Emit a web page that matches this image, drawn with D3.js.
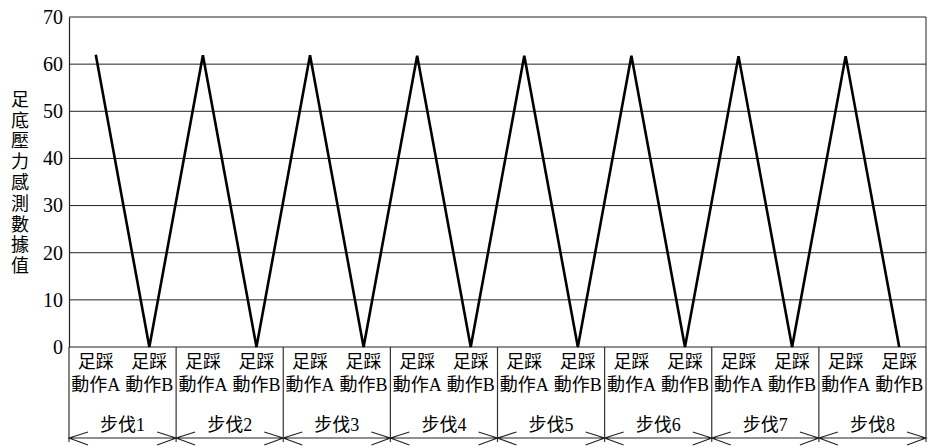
<!DOCTYPE html>
<html><head><meta charset="utf-8">
<script src="https://cdn.jsdelivr.net/npm/d3@7"></script>
<style>
html,body{margin:0;padding:0;background:#fff;}
svg text{font-family:"Liberation Serif","Times New Roman","Noto Sans CJK TC",serif;fill:#000;}
</style></head>
<body><svg id="c" width="931" height="448"></svg>
<script>
const steps = ["步伐1","步伐2","步伐3","步伐4","步伐5","步伐6","步伐7","步伐8"];
const actionTop = ["足踩","足踩"];
const actionBottom = ["動作A","動作B"];
const peakValues = [62, 61.9, 61.9, 61.8, 61.8, 61.8, 61.7, 61.7];
const lowValues = [0, 0, 0, 0, 0, 0, 0, 0];
const yTicks = [0,10,20,30,40,50,60,70];
const yTitle = "足底壓力感測數據值";

const svg = d3.select("#c");
const L = 69, R = 926, T = 17, B = 347;

const cats = [];
steps.forEach((s,i)=>{
  cats.push({step:i, act:0, v:peakValues[i]});
  cats.push({step:i, act:1, v:lowValues[i]});
});
const x = d3.scaleBand().domain(d3.range(cats.length)).range([L,R]).padding(0);
const y = d3.scaleLinear().domain([0,70]).range([B,T]);
const cx = i => x(i) + x.bandwidth()/2;

// gridlines
svg.append("g").selectAll("line").data(yTicks.filter(t=>t>0)).join("line")
  .attr("x1",L).attr("x2",R).attr("y1",d=>y(d)).attr("y2",d=>y(d))
  .attr("stroke","#222").attr("stroke-width",1);

// y axis
const yAxis = d3.axisLeft(y).tickValues(yTicks).tickSize(0).tickPadding(6);
const ga = svg.append("g").attr("transform",`translate(${L},0)`).call(yAxis);
ga.attr("font-family",null).attr("font-size",null);
ga.select(".domain").attr("stroke","#222").attr("stroke-width",1.2);
ga.selectAll("text").style("font-size","20px").attr("fill","#000");

// right border & bottom
svg.append("line").attr("x1",R).attr("x2",R).attr("y1",T).attr("y2",B).attr("stroke","#222").attr("stroke-width",1);
svg.append("line").attr("x1",L).attr("x2",R).attr("y1",B).attr("y2",B).attr("stroke","#222").attr("stroke-width",1.2);

// data line
svg.append("path").datum(cats)
  .attr("d", d3.line().x((d,i)=>cx(i)).y(d=>y(d.v)))
  .attr("fill","none").attr("stroke","#000").attr("stroke-width",2.6).attr("stroke-linejoin","miter");

// separators
const bounds = d3.range(0, cats.length+1, 2).map(i => i < cats.length ? x(i) : R);
svg.append("g").selectAll("line").data(bounds).join("line")
  .attr("x1",d=>d).attr("x2",d=>d).attr("y1",B).attr("y2",442)
  .attr("stroke","#333").attr("stroke-width",1.2);

// category labels
const gl = svg.append("g");
cats.forEach((c,i)=>{
  gl.append("text").attr("x",cx(i)).attr("y",368).attr("text-anchor","middle")
    .style("font-size","18px").text(actionTop[c.act]);
  gl.append("text").attr("x",cx(i)).attr("y",391).attr("text-anchor","middle")
    .style("font-size","18px").text(actionBottom[c.act]);
});

// step labels and arrows
steps.forEach((s,i)=>{
  const a = bounds[i], b = bounds[i+1], m=(a+b)/2, ay=438;
  gl.append("text").attr("x",m).attr("y",431).attr("text-anchor","middle")
    .style("font-size","18px").text(s);
  const p = d3.path();
  p.moveTo(a,ay); p.lineTo(b,ay);
  p.moveTo(a+19,ay-6); p.lineTo(a,ay); p.lineTo(a+19,ay+7);
  p.moveTo(b-19,ay-6); p.lineTo(b,ay); p.lineTo(b-19,ay+7);
  gl.append("path").attr("d",p.toString()).attr("fill","none").attr("stroke","#222").attr("stroke-width",1.1);
});

// y title (vertical writing)
svg.append("text").attr("x",20).attr("y",90)
  .style("writing-mode","vertical-rl").style("text-orientation","upright")
  .style("font-family","Noto Sans CJK TC, sans-serif").style("font-size","18px")
  .style("letter-spacing","2.8px")
  .text(yTitle);
</script></body></html>
